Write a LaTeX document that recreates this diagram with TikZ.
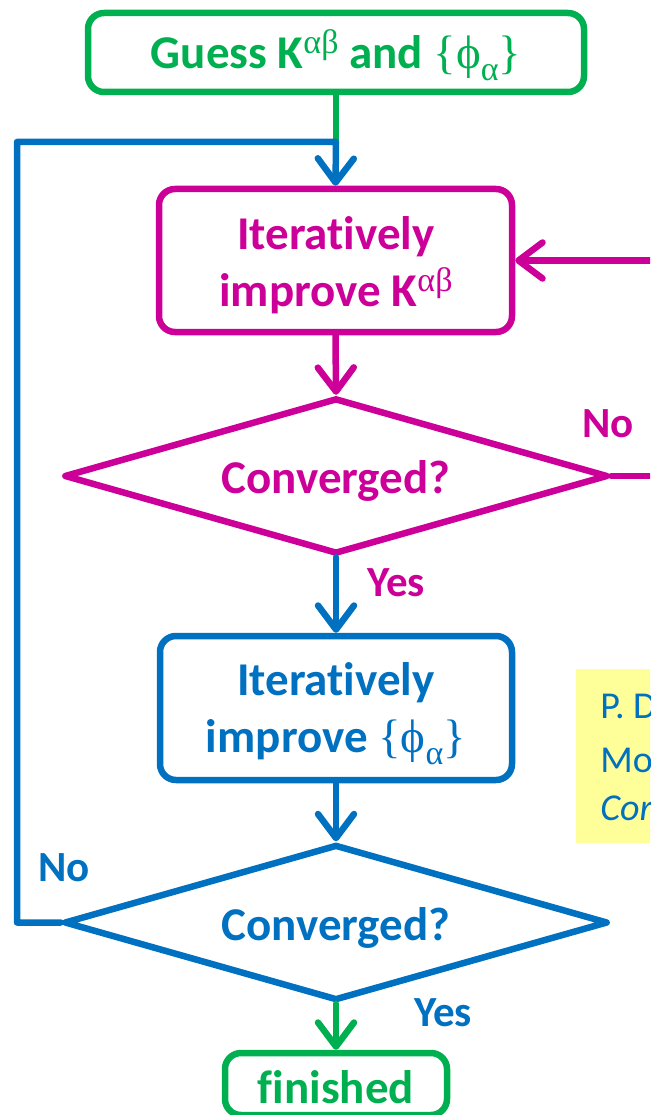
\documentclass[tikz,border=0pt]{standalone}
\usepackage{fontspec}
\setmainfont{Carlito}[Ligatures=NoCommon]
\newfontfamily\grk{Liberation Serif}
\usetikzlibrary{arrows.meta,shapes.geometric}
\definecolor{cgreen}{RGB}{0,176,80}
\definecolor{cmag}{RGB}{204,0,153}
\definecolor{cblue}{RGB}{0,112,192}
\definecolor{cyel}{RGB}{255,255,153}
\newcommand\myab{\raisebox{15pt}{\grk\mdseries\fontsize{34}{34}\selectfont αβ}}
\newcommand\mya{\raisebox{-12pt}{\grk\mdseries\fontsize{34}{34}\selectfont α}}
\newcommand\myphi{{\grk\mdseries\{ϕ}\mya{\grk\mdseries\}}}
\begin{document}
\begin{tikzpicture}[x=1pt,y=-1pt,line width=6.5pt,line join=round,line cap=round,
  box/.style={draw,rounded corners=16pt,inner sep=0pt},
  dia/.style={draw,diamond,shape aspect=3.49,inner sep=0pt,minimum width=544pt,minimum height=156pt},
  txt/.style={inner sep=0pt,align=center,font=\bfseries\fontsize{47}{57}\selectfont},
  lbl/.style={inner sep=0pt,font=\bfseries\fontsize{43}{50}\selectfont},
  ref/.style={inner sep=0pt,anchor=base west,text=cblue,font=\fontsize{38}{46}\selectfont},
  arr/.style={-{Straight Barb[length=24pt,width=36pt,round]}}]
\useasboundingbox (0,0) rectangle (650,1115);
\clip (0,0) rectangle (650,1115);

% yellow reference note
\fill[cyel] (576,669) rectangle (700,843);
\node[ref] (r1) at (597,718) {P. D};
\node[ref] (r2) at (597,772) {Mo};
\node[ref] (r3) at (597,820) {\itshape Cor};

% shapes
\node[box,cgreen,minimum width=496pt,minimum height=79pt] (g) at (336,52.5) {};
\node[box,cmag,minimum width=353pt,minimum height=143pt] (b1) at (335.5,260.5) {};
\node[dia,cmag] (d1) at (336,476) {};
\node[box,cblue,minimum width=352pt,minimum height=144pt] (b2) at (336,708) {};
\node[dia,cblue] (d2) at (336,922.5) {};
\node[box,cgreen,minimum width=222pt,minimum height=62pt] (f) at (336,1084) {};

% texts
\node[txt,cgreen] (t0) at (336,55) {Guess K\myab{} and \myphi};
\node[txt,cmag] (t1) at (336,265) {Iteratively\\improve K\myab};
\node[txt,cmag] (t2) at (336,481) {Converged?};
\node[txt,cblue] (t3) at (336,714) {Iteratively\\improve \myphi};
\node[txt,cblue] (t4) at (336,928) {Converged?};
\node[txt,cgreen] (t5) at (336,1087) {finished};

% labels
\node[lbl,cmag] (no1) at (608,424) {No};
\node[lbl,cmag] (yes1) at (396,583) {Yes};
\node[lbl,cblue] (no2) at (64,868) {No};
\node[lbl,cblue] (yes2) at (443,1013) {Yes};

% connectors
\coordinate (j) at (336,142);
\draw[cgreen] (g.south) -- (j);
\draw[cblue,arr] (d2.west) -- (17,922.5) |- (j) -- (b1.north);
\draw[cmag,arr] (b1.south) -- (d1.north);
\draw[cmag,arr] (d1.east) -- (700,476) -- (700,260.5) -- (b1.east);
\draw[cblue,arr] (d1.south) -- (b2.north);
\draw[cblue,arr] (b2.south) -- (d2.north);
\draw[cgreen,arr] (d2.south) -- (f.north);
\end{tikzpicture}
\end{document}
